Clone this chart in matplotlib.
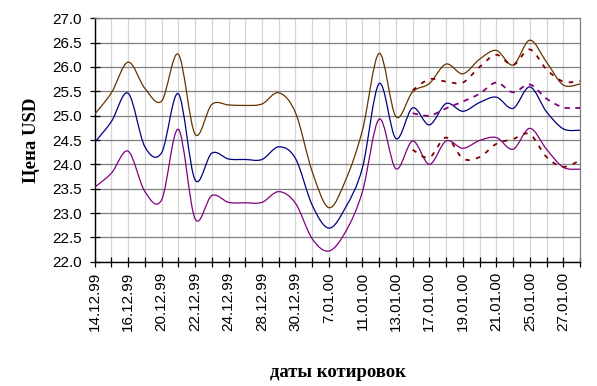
import matplotlib

matplotlib.use("Agg")
import matplotlib.pyplot as plt
import numpy as np
from matplotlib.patches import PathPatch
from matplotlib.path import Path


DATES = [
    "14.12.99", "15.12.99", "16.12.99", "17.12.99", "20.12.99", "21.12.99",
    "22.12.99", "23.12.99", "24.12.99", "27.12.99", "28.12.99", "29.12.99",
    "30.12.99", "6.01.00", "7.01.00", "10.01.00", "11.01.00", "12.01.00",
    "13.01.00", "14.01.00", "17.01.00", "18.01.00", "19.01.00", "20.01.00",
    "21.01.00", "22.01.00", "25.01.00", "26.01.00", "27.01.00", "28.01.00",
]

upper = [25.03, 25.47, 26.10, 25.56, 25.30, 26.26, 24.62, 25.23, 25.22, 25.21,
         25.24, 25.47, 25.06, 23.85, 23.11, 23.68, 24.70, 26.28, 24.98, 25.49,
         25.66, 26.06, 25.86, 26.16, 26.34, 26.04, 26.55, 26.10, 25.63, 25.65]
middle = [24.45, 24.88, 25.46, 24.36, 24.24, 25.45, 23.68, 24.23, 24.11, 24.10,
          24.10, 24.36, 24.12, 23.16, 22.69, 23.12, 23.93, 25.66, 24.53, 25.16,
          24.81, 25.25, 25.09, 25.27, 25.38, 25.15, 25.59, 25.08, 24.73, 24.70]
lower = [23.53, 23.82, 24.27, 23.44, 23.27, 24.72, 22.88, 23.36, 23.22, 23.21,
         23.22, 23.44, 23.20, 22.47, 22.22, 22.62, 23.44, 24.93, 23.91, 24.48,
         24.00, 24.48, 24.33, 24.49, 24.55, 24.31, 24.74, 24.31, 23.94, 23.90]

# forecast series, start at 14.01.00
FC_START = 19
upper_fc = [25.52, 25.75, 25.70, 25.68, 26.00, 26.25, 26.04, 26.36, 25.95,
            25.70, 25.71]
middle_fc = [25.05, 25.00, 25.15, 25.29, 25.45, 25.68, 25.48, 25.64, 25.35,
             25.17, 25.16]
lower_fc = [24.30, 24.14, 24.55, 24.12, 24.15, 24.42, 24.52, 24.62, 24.15,
            23.95, 24.08]


def smooth_path(xs, ys):
    # excel-like smoothed line: cubic bezier through every point
    pts = np.column_stack([xs, ys]).astype(float)
    ext = np.vstack([pts[0], pts, pts[-1]])
    verts = [pts[0]]
    codes = [Path.MOVETO]
    for i in range(len(pts) - 1):
        p0, p1, p2, p3 = ext[i], ext[i + 1], ext[i + 2], ext[i + 3]
        verts += [p1 + (p2 - p0) / 6.0, p2 - (p3 - p1) / 6.0, p2]
        codes += [Path.CURVE4] * 3
    return Path(verts, codes)


def draw(ax, xs, ys, color, **kw):
    patch = PathPatch(smooth_path(xs, ys), fill=False, edgecolor=color,
                      capstyle="butt", joinstyle="round", **kw)
    ax.add_patch(patch)


fig = plt.figure(figsize=(5.97, 3.86), dpi=100)
ax = fig.add_axes([0.1586, 0.322, 0.8129, 0.6306])

x = np.arange(len(DATES))
x_fc = np.arange(FC_START, len(DATES))

draw(ax, x, upper, "#663300", lw=0.9, zorder=3)
draw(ax, x, middle, "#000080", lw=0.9, zorder=3)
draw(ax, x, lower, "#800080", lw=0.9, zorder=3)
draw(ax, x_fc, upper_fc, "#800000", lw=1.3, linestyle=(0, (2.5, 3.5)), zorder=4)
draw(ax, x_fc, middle_fc, "#800080", lw=1.3, linestyle=(0, (3, 3)), zorder=4)
draw(ax, x_fc, lower_fc, "#800000", lw=1.3, linestyle=(0, (2.5, 3.5)), zorder=4)

ax.set_xlim(0, len(DATES) - 1)
ax.set_ylim(22.0, 27.0)
ax.set_yticks(np.arange(22.0, 27.01, 0.5))
ax.set_yticklabels([f"{v:.1f}" for v in np.arange(22.0, 27.01, 0.5)])
ax.set_xticks(x)
ax.set_xticklabels([d if i % 2 == 0 else "" for i, d in enumerate(DATES)],
                   rotation=90)

ax.grid(True, axis="y", color="#808080", lw=0.9, zorder=0)
ax.grid(True, axis="x", color="#d6d6d6", lw=0.9, zorder=0)
ax.set_axisbelow(True)

for side in ("top", "right"):
    ax.spines[side].set_color("#808080")
    ax.spines[side].set_linewidth(0.9)
for side in ("left", "bottom"):
    ax.spines[side].set_color("black")
    ax.spines[side].set_linewidth(1.0)

ax.tick_params(axis="both", direction="inout", length=7, width=0.9,
               color="black", labelsize=11)
ax.tick_params(axis="y", pad=6)
ax.tick_params(axis="x", pad=4)
for lab in ax.get_xticklabels() + ax.get_yticklabels():
    lab.set_fontfamily("Liberation Sans")

fig.text(0.566, 0.035, "даты котировок", ha="center", va="center",
         fontsize=13.5, fontweight="bold", family="Liberation Serif")
fig.text(0.053, 0.637, "Цена USD", ha="center", va="center", rotation=90,
         fontsize=13.5, fontweight="bold", family="Liberation Serif")

fig.savefig("out.png", dpi=100)
